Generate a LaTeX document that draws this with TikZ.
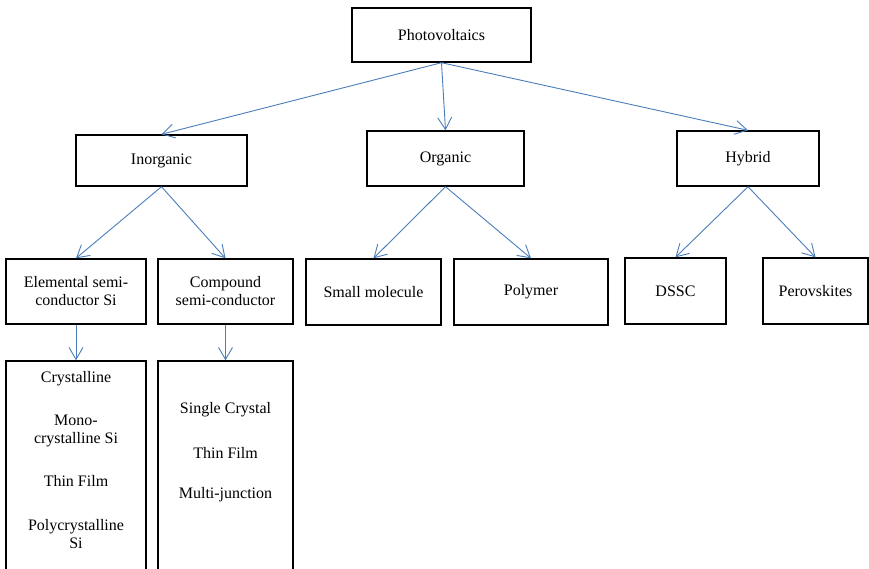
\documentclass[tikz,border=0pt]{standalone}
\usepackage{fontspec}
\setmainfont{Liberation Serif}
\usetikzlibrary{arrows.meta}
\begin{document}
\begin{tikzpicture}[x=1pt,y=-1pt,
    caja/.style={draw=black,line width=1.4pt,align=center,inner sep=0pt,font=\fontsize{16}{18}\selectfont},
    texto/.style={align=center,inner sep=0pt,font=\fontsize{16}{18}\selectfont},
    flecha/.style={lineblue,line width=0.9pt,-{Straight Barb[length=12pt,width=14pt,line width=0.9pt]}}]
        %colores
        \definecolor{lineblue}{RGB}{74,126,187}

        % Marco
        \clip (0,0) rectangle (869,568);
        \fill[white] (0,0) rectangle (869,568);

        % Nivel 1 y 2
        \node[caja,minimum width=179,minimum height=54] (pv) at (441.5,35) {Photovoltaics};
        \node[caja,minimum width=171,minimum height=51] (inorg) at (161.5,160.5) {Inorganic};
        \node[caja,minimum width=157,minimum height=55] (org) at (445.5,158.5) {Organic};
        \node[caja,minimum width=142,minimum height=55] (hyb) at (748,158.5) {Hybrid};

        % Nivel 3
        \node[caja,minimum width=140,minimum height=65] (elem) at (76,291.5) {Elemental semi-\\conductor Si};
        \node[caja,minimum width=135,minimum height=65] (comp) at (225.5,291.5) {Compound\\semi-conductor};
        \node[caja,minimum width=135,minimum height=66] (small) at (373.5,292) {Small molecule};
        \node[caja,minimum width=154,minimum height=66] (poly) at (531,292) {Polymer};
        \node[caja,minimum width=101,minimum height=66] (dssc) at (675.5,291) {DSSC};
        \node[caja,minimum width=105,minimum height=66] (perov) at (815.5,291) {Perovskites};

        % Listas
        \node[caja,minimum width=140,minimum height=260] (elist) at (76,491) {};
        \node[caja,minimum width=135,minimum height=260] (clist) at (225.5,491) {};
        \foreach \y/\t/\n in {379/Crystalline/e1,431/Mono-\\crystalline Si/e2,481/Thin Film/e3,534/Polycrystalline\\Si/e4}
            \node[texto] (\n) at (76,\y) {\t};
        \foreach \y/\t/\n in {410/Single Crystal/c1,453/Thin Film/c2,495/Multi-junction/c3}
            \node[texto] (\n) at (225.5,\y) {\t};

        % Flechas
        \foreach \a/\b in {pv/inorg,pv/org,pv/hyb,inorg/elem,inorg/comp,org/small,org/poly,hyb/dssc,hyb/perov,elem/elist,comp/clist}
            \draw[flecha] (\a.south) -- (\b.north);
    \end{tikzpicture}
\end{document}
